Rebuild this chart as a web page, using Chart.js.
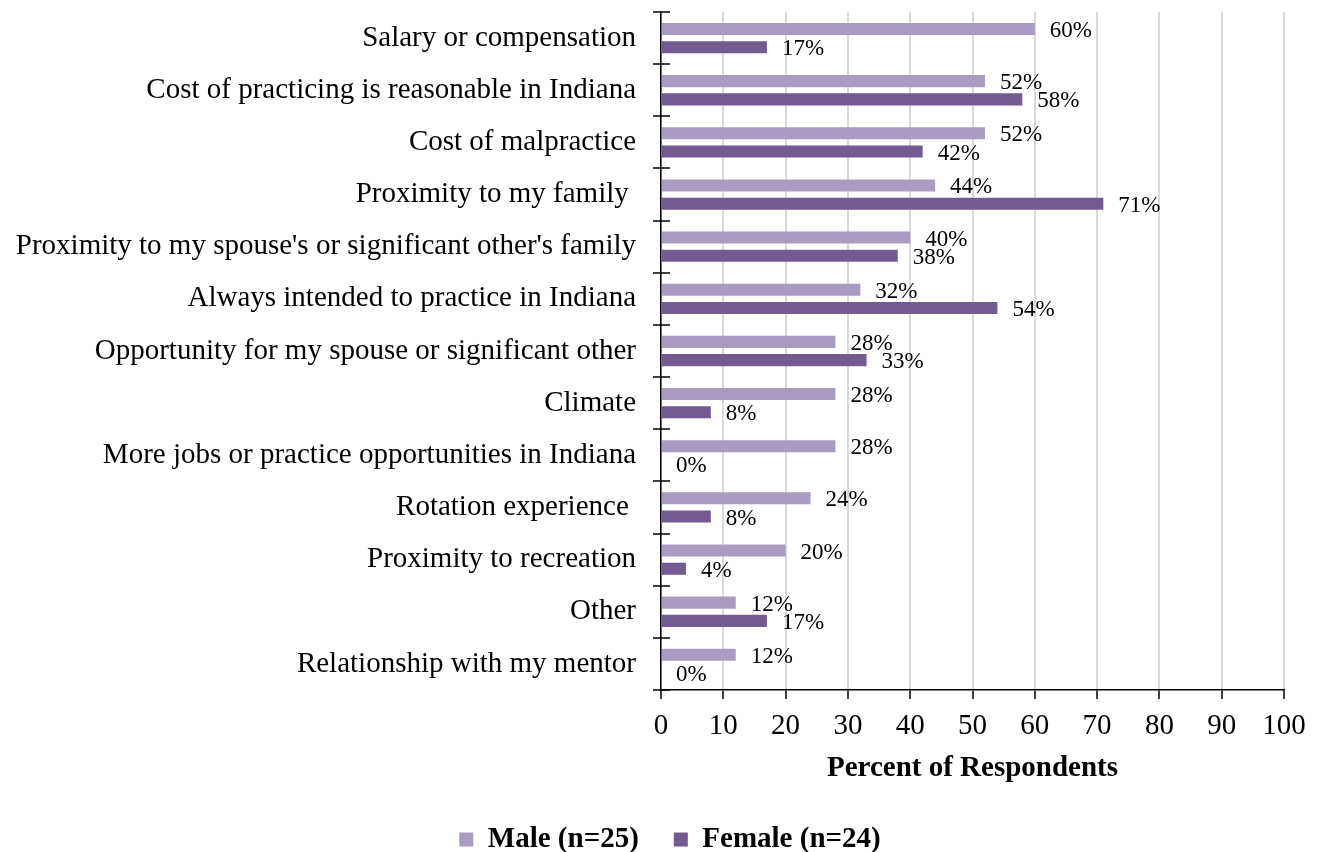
<!DOCTYPE html>
<html>
<head>
<meta charset="utf-8">
<script src="https://cdn.jsdelivr.net/npm/chart.js@4/dist/chart.umd.min.js"></script>
<style>
  html, body { margin: 0; padding: 0; background: #fff; }
  #wrap { width: 1319px; height: 852px; }
</style>
</head>
<body>
<div id="wrap"><canvas id="reasonsChart"></canvas></div>
<script>
const categories = [
  'Salary or compensation',
  'Cost of practicing is reasonable in Indiana',
  'Cost of malpractice',
  'Proximity to my family ',
  "Proximity to my spouse's or significant other's family",
  'Always intended to practice in Indiana',
  'Opportunity for my spouse or significant other',
  'Climate',
  'More jobs or practice opportunities in Indiana',
  'Rotation experience ',
  'Proximity to recreation',
  'Other',
  'Relationship with my mentor'
];
const maleValues = [60, 52, 52, 44, 40, 32, 28, 28, 28, 24, 20, 12, 12];
const femaleValues = [17, 58, 42, 71, 38, 54, 33, 8, 0, 8, 4, 17, 0];
const xTicks = [0, 10, 20, 30, 40, 50, 60, 70, 80, 90, 100];

const serif = "'Liberation Serif', 'Times New Roman', serif";

// percent labels just past the end of each bar
const barLabels = {
  id: 'barLabels',
  afterDatasetsDraw(chart) {
    const { ctx } = chart;
    ctx.save();
    ctx.font = '23px ' + serif;
    ctx.fillStyle = '#000';
    ctx.textAlign = 'left';
    ctx.textBaseline = 'middle';
    chart.data.datasets.forEach((ds, i) => {
      chart.getDatasetMeta(i).data.forEach((bar, j) => {
        ctx.fillText(ds.data[j] + '%', bar.x + 15, bar.y + 2);
      });
    });
    ctx.restore();
  }
};

// small cross ticks on the category axis between groups
const categoryTicks = {
  id: 'categoryTicks',
  afterDraw(chart) {
    const { ctx } = chart;
    const y = chart.scales.y;
    const step = (y.bottom - y.top) / categories.length;
    ctx.save();
    ctx.strokeStyle = '#000';
    ctx.lineWidth = 1.5;
    ctx.beginPath();
    for (let i = 0; i <= categories.length; i++) {
      const py = Math.round(y.top + i * step);
      ctx.moveTo(y.right - 8, py);
      ctx.lineTo(y.right + 9, py);
    }
    ctx.stroke();
    ctx.restore();
  }
};

// legend is centred a little right of the canvas middle
const legendShift = {
  id: 'legendShift',
  afterLayout(chart) {
    chart.legend.left += 56;
  }
};

new Chart(document.getElementById('reasonsChart'), {
  type: 'bar',
  data: {
    labels: categories,
    datasets: [
      {
        label: 'Male (n=25)',
        data: maleValues,
        backgroundColor: '#a99bc2',
        categoryPercentage: 0.7,
        barPercentage: 0.66
      },
      {
        label: 'Female (n=24)',
        data: femaleValues,
        backgroundColor: '#735a91',
        categoryPercentage: 0.7,
        barPercentage: 0.66
      }
    ]
  },
  options: {
    indexAxis: 'y',
    responsive: true,
    maintainAspectRatio: false,
    animation: false,
    layout: { padding: { top: 12, right: 35, bottom: 0, left: 0 } },
    scales: {
      x: {
        min: 0,
        max: 100,
        afterBuildTicks(scale) {
          scale.ticks = xTicks.map((v) => ({ value: v }));
        },
        afterFit(scale) {
          scale.height = 100;
        },
        grid: {
          color: '#d9d9d9',
          lineWidth: 2,
          tickColor: '#000',
          tickLength: 9,
          tickWidth: 1.5
        },
        border: { color: '#000', width: 1.5 },
        ticks: {
          color: '#000',
          font: { family: serif, size: 29 },
          padding: 10
        },
        title: {
          display: true,
          text: 'Percent of Respondents',
          color: '#000',
          font: { family: serif, size: 29, weight: 'bold' },
          padding: { top: 4, bottom: 4 }
        }
      },
      y: {
        afterFit(scale) {
          // axis line sits at x = 661 whatever the label widths are
          scale.width = 661;
          scale.paddingTop = 0;
          scale.paddingBottom = 0;
        },
        grid: { display: false, drawTicks: false },
        border: { color: '#000', width: 1.5 },
        ticks: {
          color: '#000',
          font: { family: serif, size: 29 },
          padding: 25,
          autoSkip: false
        }
      }
    },
    plugins: {
      legend: {
        position: 'bottom',
        maxHeight: 62,
        labels: {
          color: '#000',
          font: { family: serif, size: 29, weight: 'bold' },
          boxWidth: 14,
          boxHeight: 14,
          padding: 35
        }
      },
      tooltip: { enabled: false }
    }
  },
  plugins: [barLabels, categoryTicks, legendShift]
});
</script>
</body>
</html>
